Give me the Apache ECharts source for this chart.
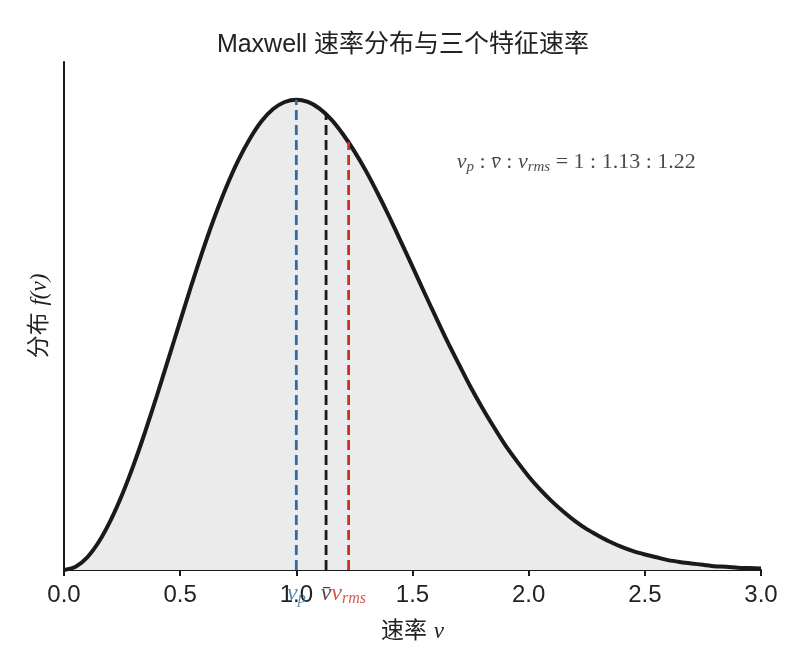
<!DOCTYPE html>
<html lang="zh">

<head>
    <meta charset="UTF-8" />
    <title>Maxwell 速率分布</title>
    <script src="https://cdn.jsdelivr.net/npm/echarts@6/dist/echarts.min.js"></script>
    <style>
        html, body { margin: 0; padding: 0; background: #fff; }
        #chart { width: 806px; height: 670px; }
    </style>
</head>

<body>
    <div id="chart"></div>

    <script>
        // speed v (in units of v_p) and normalized f(v)
        let speeds = [0.00, 0.05, 0.10, 0.15, 0.20, 0.25, 0.30, 0.35, 0.40, 0.45,
            0.50, 0.55, 0.60, 0.65, 0.70, 0.75, 0.80, 0.85, 0.90, 0.95,
            1.00, 1.05, 1.10, 1.15, 1.20, 1.25, 1.30, 1.35, 1.40, 1.45,
            1.50, 1.55, 1.60, 1.65, 1.70, 1.75, 1.80, 1.85, 1.90, 1.95,
            2.00, 2.05, 2.10, 2.15, 2.20, 2.25, 2.30, 2.35, 2.40, 2.45,
            2.50, 2.55, 2.60, 2.65, 2.70, 2.75, 2.80, 2.85, 2.90, 2.95, 3.00];
        let density = [0.000, 0.007, 0.027, 0.060, 0.105, 0.160, 0.224, 0.295, 0.371, 0.450,
            0.529, 0.608, 0.683, 0.753, 0.816, 0.871, 0.917, 0.954, 0.980, 0.995,
            1.000, 0.995, 0.981, 0.958, 0.927, 0.890, 0.848, 0.801, 0.751, 0.698,
            0.645, 0.591, 0.538, 0.486, 0.437, 0.389, 0.345, 0.304, 0.265, 0.231,
            0.199, 0.171, 0.146, 0.124, 0.104, 0.087, 0.073, 0.060, 0.049, 0.040,
            0.033, 0.027, 0.021, 0.017, 0.014, 0.011, 0.008, 0.007, 0.005, 0.004, 0.003];

        // characteristic speeds: v_p, mean, rms
        let charNames = ["vp", "vbar", "vrms"];
        let charSpeeds = [1.0, 1.128, 1.225];
        let charHeights = [1.0, 0.969, 0.910];
        let charColors = ["#2f6ea3", "#1a1a1a", "#cc3024"];

        let mathFont = "'Liberation Serif', 'DejaVu Serif', serif";
        let sansFont = "'Liberation Sans', 'Noto Sans CJK SC', sans-serif";

        let myChart = echarts.init(document.getElementById("chart"), null, {
            width: 806,
            height: 670,
        });

        let curve = speeds.map((v, i) => [v, density[i]]);

        // dashed verticals from the axis to the curve
        let dashSeries = charSpeeds.map((v, i) => ({
            type: "line",
            data: [[v, 0], [v, charHeights[i]]],
            symbol: "none",
            silent: true,
            z: 5,
            lineStyle: { color: charColors[i], width: 2.8, type: [10, 5] },
        }));

        let subRich = function (color) {
            return {
                m: { fontFamily: mathFont, fontStyle: "italic", fontSize: 24, color: color },
                s: { fontFamily: mathFont, fontStyle: "italic", fontSize: 16, color: color, padding: [10, 0, 0, 0] },
            };
        };

        let labelText = {
            vp: "{m|v}{s|p}",
            vbar: "{m|v̄}",
            vrms: "{m|v}{s|rms}",
        };

        let option = {
            animation: false,
            backgroundColor: "#ffffff",
            title: {
                text: "Maxwell 速率分布与三个特征速率",
                left: "center",
                top: 28,
                textStyle: { fontFamily: sansFont, fontSize: 25, fontWeight: "normal", color: "#222" },
            },
            grid: { left: 64, right: 45, top: 62, bottom: 100 },
            xAxis: {
                type: "value",
                min: 0,
                max: 3,
                interval: 0.5,
                name: "{a|速率}  {b|v}",
                nameLocation: "middle",
                nameGap: 50,
                nameTextStyle: {
                    rich: {
                        a: { fontFamily: sansFont, fontSize: 23, color: "#222" },
                        b: { fontFamily: mathFont, fontStyle: "italic", fontSize: 23, color: "#222" },
                    },
                },
                axisLine: { lineStyle: { color: "#1a1a1a", width: 2 } },
                axisTick: { show: true, length: 6, lineStyle: { color: "#1a1a1a", width: 2 } },
                axisLabel: {
                    margin: 13,
                    fontFamily: sansFont,
                    fontSize: 24,
                    color: "#222",
                    formatter: (v) => v.toFixed(1),
                },
                splitLine: { show: false },
            },
            yAxis: {
                type: "value",
                min: 0,
                max: 1.08,
                name: "{a|分布}  {b|f(v)}",
                nameLocation: "middle",
                nameGap: 13,
                nameRotate: 90,
                nameTextStyle: {
                    rich: {
                        a: { fontFamily: sansFont, fontSize: 23, color: "#222" },
                        b: { fontFamily: mathFont, fontStyle: "italic", fontSize: 23, color: "#222" },
                    },
                },
                axisLine: { show: true, lineStyle: { color: "#1a1a1a", width: 2 } },
                axisTick: { show: false },
                axisLabel: { show: false },
                splitLine: { show: false },
            },
            series: [
                {
                    type: "line",
                    data: curve,
                    smooth: 0.25,
                    symbol: "none",
                    z: 4,
                    lineStyle: { color: "#1a1a1a", width: 4 },
                    areaStyle: { color: "#ebebeb", opacity: 1 },
                },
                ...dashSeries,
                {
                    // labels for the three speeds, just under the axis
                    type: "scatter",
                    symbolSize: 0,
                    clip: false,
                    silent: true,
                    z: 6,
                    data: charSpeeds.map((v, i) => ({
                        value: [v, -0.05],
                        label: {
                            show: true,
                            position: "inside",
                            formatter: labelText[charNames[i]],
                            rich: subRich(charColors[i]),
                        },
                    })),
                },
                {
                    // ratio annotation
                    type: "scatter",
                    symbolSize: 0,
                    silent: true,
                    z: 6,
                    data: [{
                        value: [1.69, 0.866],
                        label: {
                            show: true,
                            position: "right",
                            distance: 0,
                            formatter: "{m|v}{s|p}{t| : }{m|v̄}{t| : }{m|v}{s|rms}{t| = 1 : 1.13 : 1.22}",
                            rich: {
                                m: { fontFamily: mathFont, fontStyle: "italic", fontSize: 22, color: "#1a1a1a" },
                                s: { fontFamily: mathFont, fontStyle: "italic", fontSize: 15, color: "#1a1a1a", padding: [9, 0, 0, 0] },
                                t: { fontFamily: mathFont, fontSize: 22, color: "#1a1a1a" },
                            },
                        },
                    }],
                },
            ],
        };

        myChart.setOption(option);
    </script>
</body>

</html>
